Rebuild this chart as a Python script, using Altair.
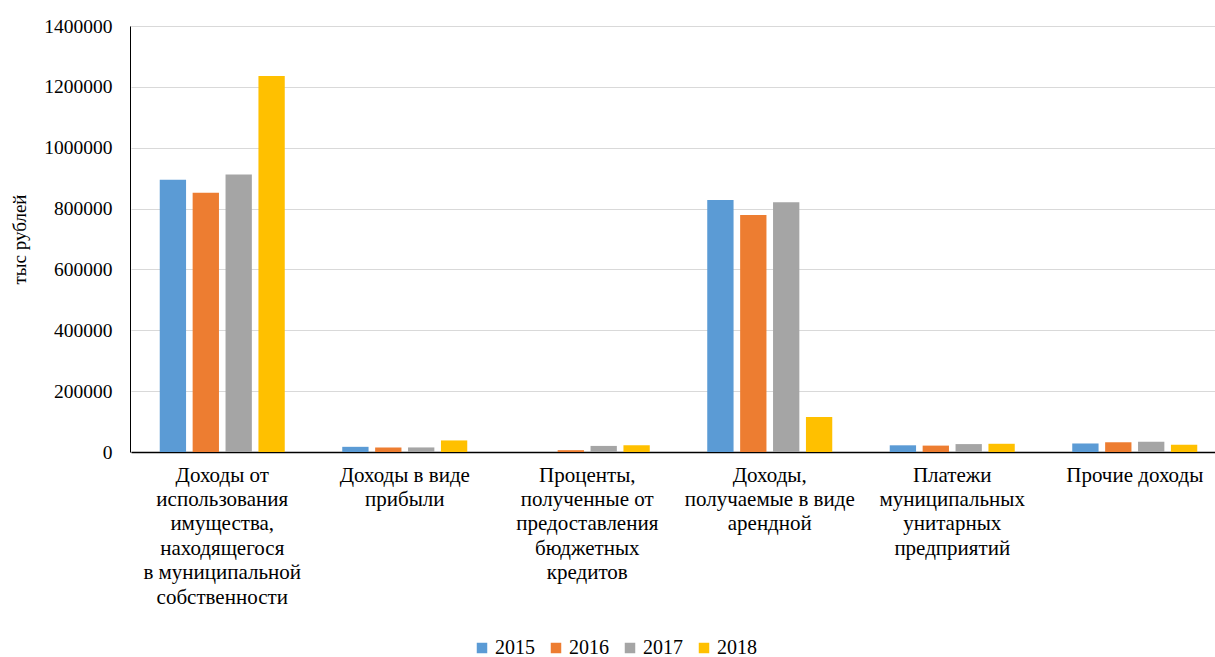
import altair as alt
import pandas as pd

# Income categories (lines separated by "|")
categories = [
    "Доходы от|использования|имущества,|находящегося|в муниципальной|собственности",
    "Доходы в виде|прибыли",
    "Проценты,|полученные от|предоставления|бюджетных|кредитов",
    "Доходы,|получаемые в виде|арендной",
    "Платежи|муниципальных|унитарных|предприятий",
    "Прочие доходы",
]
years = ["2015", "2016", "2017", "2018"]
values_2015 = [895000, 17000, 0, 828000, 22000, 28000]
values_2016 = [852000, 15000, 6000, 779000, 21000, 32000]
values_2017 = [912000, 15000, 20000, 821000, 26000, 34000]
values_2018 = [1236000, 38000, 22000, 115000, 27000, 24000]
colors = ["#5B9BD5", "#ED7D31", "#A5A5A5", "#FFC000"]

rows = []
for year, series in zip(years, [values_2015, values_2016, values_2017, values_2018]):
    for cat, v in zip(categories, series):
        rows.append({"category": cat, "year": year, "value": v})
df = pd.DataFrame(rows)

font = "Liberation Serif"

chart = alt.Chart(df).mark_bar().encode(
    x=alt.X(
        "category:N",
        sort=categories,
        # the category band runs a little past the right edge of the view
        scale=alt.Scale(range=[1, 1096], paddingInner=0.315, paddingOuter=0.1575),
        axis=alt.Axis(
            title=None,
            labelAngle=0,
            labelExpr="split(datum.value, '|')",
            labelFont=font,
            labelFontSize=21,
            labelColor="#000000",
            labelLineHeight=24.4,
            labelPadding=12,
            labelLimit=300,
            ticks=False,
            domainColor="#000000",
            domainWidth=1.5,
            grid=False,
        ),
    ),
    xOffset=alt.XOffset("year:N", sort=years, scale=alt.Scale(paddingInner=0.2)),
    y=alt.Y(
        "value:Q",
        scale=alt.Scale(domain=[0, 1400000], nice=False),
        axis=alt.Axis(
            title="тыс рублей",
            titleFont=font,
            titleFontSize=19,
            titleFontWeight="normal",
            titleColor="#000000",
            titlePadding=14,
            values=[0, 200000, 400000, 600000, 800000, 1000000, 1200000, 1400000],
            format="d",
            labelFont=font,
            labelFontSize=19.5,
            labelColor="#000000",
            labelPadding=18,
            ticks=False,
            domainColor="#000000",
            gridColor="#d9d9d9",
        ),
    ),
    color=alt.Color(
        "year:N",
        sort=years,
        scale=alt.Scale(domain=years, range=colors),
        legend=alt.Legend(
            title=None,
            orient="none",
            direction="horizontal",
            legendX=342,
            legendY=612,
            symbolType="square",
            symbolSize=110,
            symbolStrokeWidth=0,
            labelFont=font,
            labelFontSize=20,
            labelColor="#000000",
            columnPadding=11,
            labelOffset=3,
        ),
    ),
).properties(
    width=1085,
    height=426,
    autosize=alt.AutoSizeParams(type="none"),
    padding={"left": 130, "top": 26, "right": 0, "bottom": 205},
).configure_view(stroke=None).configure(background="white")

chart.save("out.html", embed_options={"renderer": "svg", "actions": False})
